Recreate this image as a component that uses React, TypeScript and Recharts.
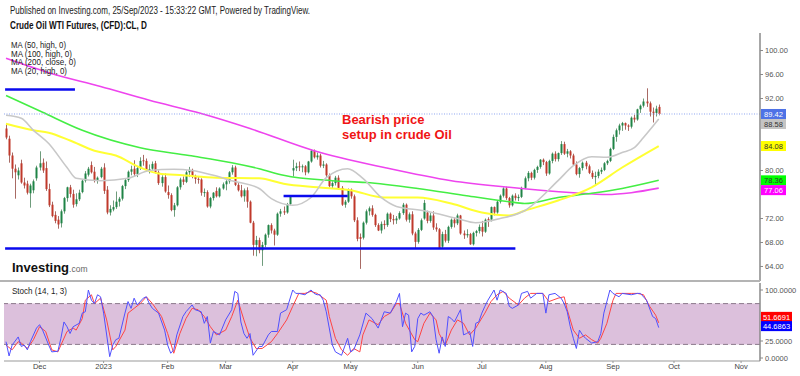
import React from 'react';
import { ComposedChart, Bar, Line, XAxis, YAxis, ReferenceLine, ReferenceArea } from 'recharts';

type Ohlc = [number, number, number, number];
type Pt = [number, number];

// daily candles [open, high, low, close], one array per month
const nov22: Ohlc[] = [
    [87.0, 87.8, 85.2, 85.5], [85.3, 85.8, 81.3, 82.5], [82.5, 83.0, 78.7, 80.3], [80.3, 81.0, 75.3, 79.7],
    [79.2, 80.5, 78.5, 80.0], [81.2, 81.8, 77.8, 78.0], [78.0, 78.8, 77.0, 77.5], [77.8, 78.3, 76.0, 76.3],
    [76.2, 77.8, 73.8, 77.5], [76.7, 78.5, 76.2, 78.2], [78.7, 80.8, 78.3, 80.5],
];
const dec22: Ohlc[] = [
    [80.5, 83.2, 80.0, 81.2], [81.3, 82.0, 79.6, 80.0], [80.4, 81.5, 76.6, 76.9], [76.9, 77.8, 73.9, 74.2],
    [74.3, 74.8, 72.2, 72.4], [72.6, 73.2, 71.2, 71.6], [71.8, 72.4, 70.3, 71.0], [71.2, 73.5, 70.5, 73.2],
    [73.2, 75.6, 72.8, 75.4], [75.4, 77.3, 74.8, 77.2], [77.2, 77.6, 75.5, 76.1], [76.1, 76.8, 73.8, 74.3],
    [74.4, 76.2, 74.0, 75.2], [75.2, 76.8, 74.9, 76.3], [76.4, 78.5, 76.2, 78.3], [78.3, 79.9, 78.0, 79.5],
    [79.3, 80.6, 79.0, 80.3], [80.9, 81.5, 79.5, 79.7], [79.8, 80.6, 78.0, 78.3], [78.3, 79.0, 77.8, 78.8],
    [78.9, 80.6, 78.7, 80.3],
];
const jan23: Ohlc[] = [
    [80.5, 81.2, 76.1, 76.6], [76.8, 77.4, 72.7, 73.0], [73.0, 74.2, 72.5, 73.6], [73.5, 75.0, 73.2, 73.9],
    [73.9, 76.5, 73.6, 74.8], [74.8, 75.6, 74.0, 75.3], [75.3, 77.6, 75.0, 77.4], [77.4, 78.7, 76.9, 78.4],
    [78.4, 80.0, 78.1, 79.8], [79.8, 80.8, 79.2, 80.2], [80.3, 81.7, 79.0, 79.4], [79.4, 80.6, 78.9, 80.4],
    [80.4, 82.2, 80.1, 81.6], [81.7, 82.6, 80.8, 81.6], [81.6, 82.0, 79.8, 80.1], [80.1, 81.0, 79.5, 80.2],
    [80.3, 81.5, 80.0, 81.1], [81.2, 81.6, 79.5, 79.7], [79.7, 80.0, 77.6, 77.9], [77.9, 79.2, 77.3, 78.9],
];
const feb23: Ohlc[] = [
    [78.9, 79.5, 76.3, 76.5], [76.4, 77.5, 75.3, 75.9], [75.9, 76.2, 73.2, 73.4], [73.4, 74.6, 72.3, 74.2],
    [74.2, 77.4, 74.0, 77.2], [77.2, 78.8, 76.8, 78.5], [78.5, 79.0, 77.6, 78.1], [78.1, 80.0, 77.9, 79.7],
    [79.7, 80.6, 78.9, 80.1], [80.1, 80.3, 78.7, 79.1], [79.1, 79.3, 77.8, 78.6], [78.6, 79.0, 77.8, 78.5],
    [78.5, 78.7, 75.8, 76.3], [76.3, 77.0, 75.6, 76.4], [76.4, 76.7, 73.8, 74.0], [74.0, 75.6, 73.7, 75.4],
    [75.4, 76.4, 75.0, 76.3], [76.6, 77.2, 75.5, 75.7], [75.7, 77.2, 75.5, 77.0],
];
const mar23: Ohlc[] = [
    [77.0, 78.0, 76.8, 77.7], [77.7, 78.4, 76.7, 78.2], [78.2, 79.9, 77.8, 79.7], [79.7, 80.9, 79.3, 80.5],
    [80.5, 80.8, 77.4, 77.6], [77.6, 77.9, 76.5, 76.7], [76.7, 77.6, 75.5, 75.7], [75.7, 77.0, 74.8, 76.7],
    [76.7, 77.2, 73.8, 74.8], [74.8, 75.0, 71.2, 71.3], [71.3, 71.6, 65.8, 67.6], [67.6, 69.1, 65.7, 68.4],
    [68.4, 68.8, 66.2, 66.7], [66.7, 68.1, 64.1, 67.6], [67.6, 69.5, 67.2, 69.3], [69.3, 71.0, 68.8, 70.9],
    [70.9, 71.2, 69.5, 70.0], [70.0, 70.3, 67.5, 69.3], [69.3, 73.0, 69.1, 72.8], [72.8, 73.6, 72.3, 73.2],
    [73.2, 74.0, 72.6, 73.0], [73.0, 74.6, 72.8, 74.4], [74.4, 75.8, 74.2, 75.7],
];
const apr23: Ohlc[] = [
    [80.0, 81.8, 79.0, 80.4], [80.4, 81.3, 79.9, 80.7], [80.7, 81.5, 79.9, 80.6], [80.6, 81.0, 79.7, 80.7],
    [80.7, 80.9, 79.2, 79.7], [79.7, 81.6, 79.5, 81.5], [81.5, 83.5, 81.3, 83.3], [83.3, 83.5, 82.0, 82.2],
    [82.2, 83.0, 81.8, 82.5], [82.5, 82.8, 80.5, 80.8], [80.8, 81.6, 80.4, 81.0], [81.0, 81.2, 78.9, 79.2],
    [79.2, 79.5, 77.2, 77.4], [77.4, 78.2, 77.0, 77.9], [77.9, 79.1, 77.5, 78.8], [78.8, 79.2, 76.8, 77.1],
    [77.1, 77.4, 74.1, 74.3], [74.3, 75.1, 73.8, 74.8], [74.8, 77.0, 74.6, 76.8],
];
const may23: Ohlc[] = [
    [76.8, 77.0, 75.3, 75.7], [75.7, 76.0, 71.4, 71.7], [71.7, 72.2, 68.2, 68.6], [68.9, 69.5, 63.6, 68.6],
    [68.8, 71.5, 68.5, 71.3], [71.3, 73.5, 71.0, 73.2], [73.2, 74.0, 72.5, 73.7], [73.7, 74.2, 72.3, 72.6],
    [72.6, 72.8, 70.6, 70.9], [70.9, 71.2, 69.9, 70.0], [70.0, 71.5, 69.5, 71.1], [71.1, 71.7, 70.2, 70.9],
    [70.9, 73.0, 70.6, 72.8], [72.8, 73.0, 71.4, 71.9], [71.9, 72.6, 71.0, 71.7], [71.7, 72.4, 71.1, 72.0],
    [72.0, 73.2, 71.8, 72.9], [72.9, 74.6, 72.6, 74.3], [74.3, 74.5, 71.5, 71.8], [71.8, 73.0, 71.3, 72.7],
    [72.7, 73.2, 69.2, 69.5], [69.5, 69.8, 67.1, 68.1],
];
const jun23: Ohlc[] = [
    [68.1, 70.4, 67.8, 70.1], [70.1, 72.0, 69.9, 71.7], [72.0, 75.1, 71.8, 74.6], [73.0, 73.3, 71.2, 71.6],
    [71.6, 72.9, 71.3, 72.5], [72.5, 73.2, 70.1, 70.5], [70.5, 71.2, 69.8, 70.2], [70.2, 70.4, 67.0, 67.1],
    [67.3, 69.8, 67.0, 69.4], [69.4, 70.1, 68.0, 68.3], [68.3, 70.8, 67.9, 70.6], [70.6, 72.0, 70.3, 71.8],
    [71.8, 72.2, 70.5, 71.2], [71.2, 72.8, 70.9, 72.5], [72.5, 72.6, 69.3, 69.5], [69.5, 70.0, 68.6, 69.2],
    [69.2, 70.2, 68.8, 69.4], [69.4, 69.6, 67.6, 67.7], [67.7, 69.8, 67.5, 69.6], [69.6, 70.1, 69.0, 69.9],
    [69.9, 71.0, 69.5, 70.6],
];
const jul23: Ohlc[] = [
    [70.6, 71.6, 69.0, 69.8], [69.8, 72.0, 69.6, 71.8], [71.9, 72.2, 70.6, 71.7], [71.8, 74.0, 71.5, 73.9],
    [73.9, 74.0, 72.5, 73.0], [73.0, 75.0, 72.8, 74.8], [74.8, 76.0, 74.5, 75.8], [75.8, 77.2, 75.5, 77.0],
    [77.0, 77.3, 75.1, 75.4], [75.4, 75.6, 73.8, 74.2], [74.2, 76.0, 74.0, 75.8], [75.8, 76.2, 75.0, 75.4],
    [75.4, 76.0, 74.9, 75.6], [75.6, 77.3, 75.4, 77.1], [77.1, 79.0, 76.9, 78.7], [78.7, 79.9, 78.2, 79.6],
    [79.6, 79.8, 78.4, 78.8], [78.8, 80.3, 78.5, 80.1], [80.1, 80.8, 79.6, 80.6], [80.6, 81.9, 80.3, 81.8],
];
const aug23: Ohlc[] = [
    [81.8, 82.0, 80.9, 81.4], [81.4, 81.6, 79.1, 79.5], [79.5, 81.8, 79.3, 81.6], [81.6, 83.0, 81.2, 82.8],
    [82.8, 83.2, 81.5, 81.9], [81.9, 83.0, 81.5, 82.9], [82.9, 84.9, 82.6, 84.4], [84.4, 84.8, 82.6, 82.8],
    [82.8, 83.6, 82.2, 83.2], [83.2, 83.4, 82.0, 82.5], [82.5, 82.8, 80.8, 81.0], [81.0, 81.5, 79.2, 79.4],
    [79.4, 80.6, 78.8, 80.4], [80.4, 81.5, 80.0, 81.3], [81.3, 81.6, 80.2, 80.7], [80.7, 81.0, 79.4, 79.6],
    [79.6, 80.0, 78.6, 78.9], [78.9, 79.8, 77.6, 79.1], [79.1, 80.2, 78.7, 79.8], [79.8, 80.5, 79.4, 80.1],
    [80.1, 81.4, 79.9, 81.2], [81.2, 81.8, 80.9, 81.6], [81.6, 83.8, 81.4, 83.6],
];
const sep23: Ohlc[] = [
    [83.6, 86.0, 83.4, 85.6], [85.6, 87.0, 84.8, 86.7], [86.7, 87.8, 86.0, 87.5], [87.5, 88.1, 86.6, 87.9],
    [87.9, 88.0, 86.8, 87.5], [87.5, 87.7, 86.6, 87.3], [87.3, 89.0, 87.0, 88.8], [88.8, 89.3, 88.0, 88.5],
    [88.5, 90.3, 88.3, 90.2], [90.2, 91.0, 89.6, 90.8], [90.8, 92.0, 90.5, 91.5], [91.5, 93.7, 90.6, 91.2],
    [91.2, 91.5, 89.0, 89.8], [89.8, 90.5, 88.0, 89.6], [89.6, 90.8, 89.0, 90.3], [90.6, 91.0, 89.2, 89.42],
];

const candles: Ohlc[] = [...nov22, ...dec22, ...jan23, ...feb23, ...mar23, ...apr23, ...may23, ...jun23, ...jul23, ...aug23, ...sep23];

// month labels and the bar index they sit on
const monthNames = ['Dec', '2023', 'Feb', 'Mar', 'Apr', 'May', 'Jun', 'Jul', 'Aug', 'Sep', 'Oct', 'Nov'];
const monthBars = [11, 32, 53, 72, 94, 113, 135, 156, 177, 199, 219, 241];

const priceTicks = [64, 68, 72, 80, 92, 96, 100];
const stochTicks = [0, 25, 100];

// moving averages: [bar, value]
const ma200: Pt[] = [[0, 98.7], [14, 96.3], [31, 94.0], [47, 91.7], [64, 89.5], [80, 87.0], [101, 83.3], [124, 80.5], [146, 78.3], [165, 77.2], [186, 76.3], [197, 76.0], [205, 76.3], [214, 77.06]];
const ma100: Pt[] = [[0, 92.5], [12, 89.7], [25, 86.7], [44, 83.8], [60, 82.5], [74, 81.3], [83, 80.3], [91, 79.2], [107, 78.3], [118, 78.0], [135, 77.0], [151, 75.8], [165, 74.8], [170, 74.5], [181, 75.5], [192, 76.2], [202, 77.0], [214, 78.36]];
const ma50: Pt[] = [[0, 87.8], [9, 86.7], [14, 86.3], [21, 85.0], [29, 83.3], [36, 82.5], [44, 80.5], [50, 79.5], [58, 79.2], [69, 78.8], [83, 78.7], [91, 77.8], [102, 77.2], [113, 76.7], [124, 75.5], [135, 75.5], [146, 74.5], [156, 73.0], [165, 72.5], [170, 73.3], [181, 75.0], [192, 77.2], [202, 80.5], [214, 84.08]];
const ma20: Pt[] = [[0, 89.2], [5, 88.7], [9, 86.7], [14, 84.5], [20, 80.5], [23, 78.7], [31, 78.3], [40, 78.7], [47, 80.0], [55, 80.2], [61, 80.0], [68, 79.2], [74, 78.3], [83, 77.0], [87, 75.3], [94, 74.2], [100, 75.5], [105, 78.8], [112, 80.3], [117, 78.7], [123, 75.5], [128, 74.0], [137, 73.3], [148, 72.0], [154, 71.3], [162, 72.0], [170, 73.3], [181, 78.3], [186, 80.8], [192, 82.3], [197, 82.2], [202, 83.0], [206, 83.8], [209, 85.5], [214, 88.58]];

// stochastic %K and %D: [bar, value]
const stochK: Pt[] = [[0, 24], [1, 3], [2, 19], [4, 31], [5, 17], [6, 19], [7, 12], [8, 24], [10, 44], [11, 49], [12, 41], [14, 19], [15, 9], [17, 10], [18, 29], [19, 53], [20, 46], [21, 36], [22, 46], [24, 51], [25, 66], [26, 68], [27, 100], [28, 85], [29, 80], [30, 93], [31, 90], [32, 66], [34, 2], [35, 19], [36, 27], [37, 29], [39, 66], [40, 83], [41, 73], [42, 88], [43, 78], [45, 88], [46, 90], [47, 80], [48, 73], [50, 66], [52, 41], [53, 19], [54, 7], [55, 12], [56, 34], [58, 61], [59, 68], [61, 78], [62, 71], [64, 68], [65, 51], [66, 61], [67, 22], [68, 39], [70, 34], [72, 56], [74, 71], [75, 98], [76, 95], [77, 53], [78, 36], [79, 29], [80, 36], [81, 4], [83, 17], [84, 17], [86, 34], [87, 39], [89, 39], [90, 66], [92, 71], [94, 100], [95, 95], [96, 95], [98, 93], [100, 100], [101, 95], [102, 93], [103, 93], [104, 85], [105, 68], [107, 19], [108, 9], [110, 4], [112, 29], [113, 9], [114, 12], [116, 34], [118, 66], [120, 58], [122, 44], [123, 56], [124, 68], [126, 66], [128, 83], [129, 95], [130, 46], [131, 66], [132, 63], [133, 9], [134, 17], [135, 58], [136, 66], [137, 63], [139, 68], [140, 61], [141, 27], [142, 7], [143, 31], [144, 17], [145, 61], [146, 58], [147, 53], [149, 71], [150, 34], [151, 36], [152, 39], [153, 17], [154, 51], [155, 53], [156, 66], [157, 76], [158, 85], [160, 100], [161, 85], [162, 100], [164, 95], [165, 76], [166, 73], [168, 78], [169, 95], [171, 98], [172, 88], [174, 95], [176, 95], [177, 66], [178, 93], [180, 95], [182, 88], [183, 80], [184, 68], [185, 46], [186, 29], [187, 14], [188, 41], [189, 34], [190, 29], [192, 22], [194, 24], [195, 36], [196, 66], [198, 100], [199, 95], [201, 90], [202, 95], [205, 93], [207, 95], [208, 95], [210, 85], [212, 61], [213, 58], [214, 44.69]];
const stochD: Pt[] = [[0, 19], [2, 12], [4, 24], [5, 22], [7, 14], [9, 27], [11, 46], [13, 39], [15, 12], [17, 9], [18, 19], [20, 39], [22, 44], [23, 41], [25, 58], [26, 85], [28, 93], [29, 80], [31, 88], [33, 56], [35, 12], [36, 17], [39, 41], [40, 66], [42, 73], [44, 80], [46, 90], [48, 80], [51, 61], [53, 36], [55, 7], [57, 36], [59, 58], [61, 73], [63, 71], [65, 61], [67, 46], [69, 34], [72, 41], [74, 61], [76, 85], [78, 56], [80, 29], [82, 14], [84, 14], [87, 24], [89, 36], [92, 56], [94, 76], [96, 95], [98, 95], [100, 98], [102, 95], [105, 85], [106, 61], [108, 29], [110, 12], [112, 4], [114, 14], [116, 9], [117, 34], [119, 56], [122, 49], [124, 61], [126, 66], [128, 80], [129, 80], [131, 51], [134, 27], [135, 24], [137, 51], [139, 66], [141, 56], [142, 36], [144, 19], [146, 41], [148, 56], [150, 51], [152, 34], [154, 44], [157, 66], [159, 83], [161, 93], [163, 98], [165, 88], [168, 78], [170, 88], [172, 95], [174, 95], [176, 95], [178, 83], [181, 88], [183, 90], [184, 71], [186, 41], [188, 29], [190, 34], [192, 27], [194, 22], [195, 29], [197, 51], [199, 85], [200, 95], [202, 95], [205, 95], [207, 95], [209, 93], [211, 76], [213, 63], [214, 51.67]];

// hand drawn blue support lines: [fromBar, toBar, price]
const supportLines: [number, number, number][] = [[-0.3, 22.6, 93.5], [-0.3, 167, 67.0], [91, 112, 75.75]];

const lastPrice = 89.42;
const maLast = [88.58, 84.08, 78.36, 77.06];
const stochLast = [51.6691, 44.6863];

const FONT = '"Liberation Sans", Arial, sans-serif';
const UP = '#1f8446';
const DOWN = '#c0392b';
const X_DOMAIN: [number, number] = [-0.66, 247.2];

const rows: any[] = candles.map(([o, h, l, c], i) => ({ i, o, h, l, c, range: [l, h] }));
const put = (target: any[], key: string, pts: Pt[]) => pts.forEach(([i, v]) => { target[i][key] = v; });
put(rows, 'ma20', ma20);
put(rows, 'ma50', ma50);
put(rows, 'ma100', ma100);
put(rows, 'ma200', ma200);

const stochRows: any[] = candles.map((_, i) => ({ i }));
put(stochRows, 'k', stochK);
put(stochRows, 'd', stochD);

const Candle = (props: any) => {
    const { x, y, width, height, payload } = props;
    if (!payload) return null;
    const { o, h, l, c } = payload;
    const top = Math.min(y, y + height);
    const span = Math.abs(height);
    const toY = (v: number) => top + ((h - v) / (h - l)) * span;
    const cx = Math.round(x + width / 2);
    const up = c >= o;
    const y1 = toY(Math.max(o, c));
    const y2 = toY(Math.min(o, c));
    return (
        <g>
            <line x1={cx + 0.5} x2={cx + 0.5} y1={top} y2={top + span} stroke={up ? '#6f9c7c' : '#a86a64'} strokeWidth={1} />
            <rect x={cx - 0.5} y={y1} width={2} height={Math.max(1, y2 - y1)} fill={up ? UP : DOWN} />
        </g>
    );
};

const Tag = (props: any) => {
    const { viewBox, text, bg, fg, w = 25, shift = 0 } = props;
    if (!viewBox) return null;
    const x = viewBox.x + viewBox.width + 1;
    const y = viewBox.y + shift;
    return (
        <g>
            <rect x={x} y={y - 5} width={w} height={10} fill={bg} />
            <text x={x + w / 2} y={y + 2.8} textAnchor="middle" fontSize={7.5} fill={fg} fontFamily={FONT}>{text}</text>
        </g>
    );
};

const maTagStyle = [
    { bg: '#c4c4c4', fg: '#333', shift: 5 },
    { bg: '#ffff00', fg: '#333', shift: 0 },
    { bg: '#00ff00', fg: '#333', shift: 0 },
    { bg: '#ff00ff', fg: '#fff', shift: 2 },
];
const stochTagStyle = [
    { bg: '#ff0000', fg: '#fff', shift: -6 },
    { bg: '#0000ff', fg: '#fff', shift: -1.5 },
];

const axisTick = { fontSize: 7.5, fill: '#555', fontFamily: FONT };

export default function App() {
    return (
        <div style={{ position: 'absolute', left: 0, top: 0, width: 800, height: 376, background: '#fff', overflow: 'hidden', fontFamily: FONT }}>
            <div style={{ position: 'absolute', left: 0, top: 0 }}>
                <ComposedChart width={800} height={283} data={rows} margin={{ top: 33, right: 0, bottom: 2, left: 4 }}>
                    <XAxis dataKey="i" type="number" domain={X_DOMAIN} hide allowDataOverflow />
                    <YAxis
                        orientation="right"
                        width={40}
                        domain={[61.58, 102.92]}
                        allowDataOverflow
                        ticks={priceTicks}
                        tickFormatter={(v: number) => v.toFixed(2)}
                        tick={axisTick}
                        tickSize={3}
                        tickMargin={2}
                        axisLine={{ stroke: '#8a8a8a', strokeWidth: 1.5 }}
                        tickLine={{ stroke: '#8a8a8a' }}
                    />
                    <Line dataKey="ma200" type="monotone" stroke="#ee44ee" strokeWidth={1.6} dot={false} connectNulls isAnimationActive={false} />
                    <Line dataKey="ma100" type="monotone" stroke="#44ee44" strokeWidth={1.6} dot={false} connectNulls isAnimationActive={false} />
                    <Line dataKey="ma50" type="monotone" stroke="#ffff33" strokeWidth={2} dot={false} connectNulls isAnimationActive={false} />
                    <Line dataKey="ma20" type="monotone" stroke="#c8c8c8" strokeWidth={1.6} dot={false} connectNulls isAnimationActive={false} />
                    <Bar dataKey="range" barSize={3} shape={(p: any) => <Candle {...p} />} isAnimationActive={false} />
                    {supportLines.map(([a, b, p], n) => (
                        <ReferenceLine key={n} segment={[{ x: a, y: p }, { x: b, y: p }]} stroke="#0a0aee" strokeWidth={2.5} ifOverflow="visible" />
                    ))}
                    <ReferenceLine y={lastPrice} stroke="#8ea6f0" strokeDasharray="1 1.5" strokeWidth={1}
                        label={<Tag text={lastPrice.toFixed(2)} bg="#4e72e6" fg="#fff" />} />
                    {maLast.map((v, n) => (
                        <ReferenceLine key={'m' + n} y={v} stroke="none"
                            label={<Tag text={v.toFixed(2)} bg={maTagStyle[n].bg} fg={maTagStyle[n].fg} shift={maTagStyle[n].shift} />} />
                    ))}
                </ComposedChart>
            </div>

            <div style={{ position: 'absolute', left: 0, top: 280, width: 760, height: 2, background: '#b4b4b4' }} />

            <div style={{ position: 'absolute', left: 0, top: 281 }}>
                <ComposedChart width={800} height={95} data={stochRows} margin={{ top: 2, right: 0, bottom: 0, left: 4 }}>
                    <XAxis
                        dataKey="i"
                        type="number"
                        domain={X_DOMAIN}
                        allowDataOverflow
                        ticks={monthBars}
                        tickFormatter={(v: number) => monthNames[monthBars.indexOf(v)]}
                        height={15}
                        tick={{ ...axisTick, fill: '#444' }}
                        tickSize={2}
                        tickMargin={1}
                        axisLine={{ stroke: '#999' }}
                        tickLine={{ stroke: '#999' }}
                    />
                    <YAxis
                        orientation="right"
                        width={40}
                        domain={[-4.41, 110.3]}
                        allowDataOverflow
                        ticks={stochTicks}
                        tickFormatter={(v: number) => v.toFixed(4)}
                        tick={axisTick}
                        tickSize={3}
                        tickMargin={2}
                        axisLine={{ stroke: '#8a8a8a', strokeWidth: 1.5 }}
                        tickLine={{ stroke: '#8a8a8a' }}
                    />
                    <ReferenceArea y1={20} y2={80} fill="#dcc0dc" fillOpacity={1} stroke="none" />
                    <ReferenceLine y={80} stroke="#8c7a8c" strokeDasharray="5 3" />
                    <ReferenceLine y={20} stroke="#8c7a8c" strokeDasharray="5 3" />
                    <Line dataKey="d" type="linear" stroke="#ff4444" strokeWidth={1} dot={false} connectNulls isAnimationActive={false} />
                    <Line dataKey="k" type="linear" stroke="#5050ff" strokeWidth={1} dot={false} connectNulls isAnimationActive={false} />
                    {stochLast.map((v, n) => (
                        <ReferenceLine key={'s' + n} y={v} stroke="none"
                            label={<Tag text={v.toFixed(4)} w={31} bg={stochTagStyle[n].bg} fg={stochTagStyle[n].fg} shift={stochTagStyle[n].shift} />} />
                    ))}
                </ComposedChart>
            </div>

            <svg width={800} height={376} style={{ position: 'absolute', left: 0, top: 0, pointerEvents: 'none' }} fontFamily={FONT}>
                <text x={10} y={14} fontSize={10} fill="#222" textLength={300} lengthAdjust="spacingAndGlyphs">
                    Published on Investing.com, 25/Sep/2023 - 15:33:22 GMT, Powered by TradingView.
                </text>
                <text x={10} y={29} fontSize={10} fontWeight="bold" fill="#111" textLength={137} lengthAdjust="spacingAndGlyphs">
                    Crude Oil WTI Futures, (CFD):CL, D
                </text>
                <text x={11} y={48} fontSize={9} fill="#222" textLength={55} lengthAdjust="spacingAndGlyphs">MA (50, high, 0)</text>
                <text x={11} y={56.5} fontSize={9} fill="#222" textLength={61} lengthAdjust="spacingAndGlyphs">MA (100, high, 0)</text>
                <text x={11} y={65} fontSize={9} fill="#222" textLength={65} lengthAdjust="spacingAndGlyphs">MA (200, close, 0)</text>
                <text x={11} y={73.5} fontSize={9} fill="#222" textLength={56} lengthAdjust="spacingAndGlyphs">MA (20, high, 0)</text>
                <text x={342} y={124} fontSize={13} fontWeight="bold" fill="#f01414">Bearish price</text>
                <text x={342} y={139} fontSize={13} fontWeight="bold" fill="#f01414">setup in crude Oil</text>
                <text x={12} y={272} fontSize={13} fontWeight="bold" fill="#111">
                    Investing<tspan fontSize={8.5} fontWeight="normal" fill="#666">.com</tspan>
                </text>
                <text x={12} y={294} fontSize={9.5} fill="#222" textLength={55} lengthAdjust="spacingAndGlyphs">Stoch (14, 1, 3)</text>
            </svg>
        </div>
    );
}
